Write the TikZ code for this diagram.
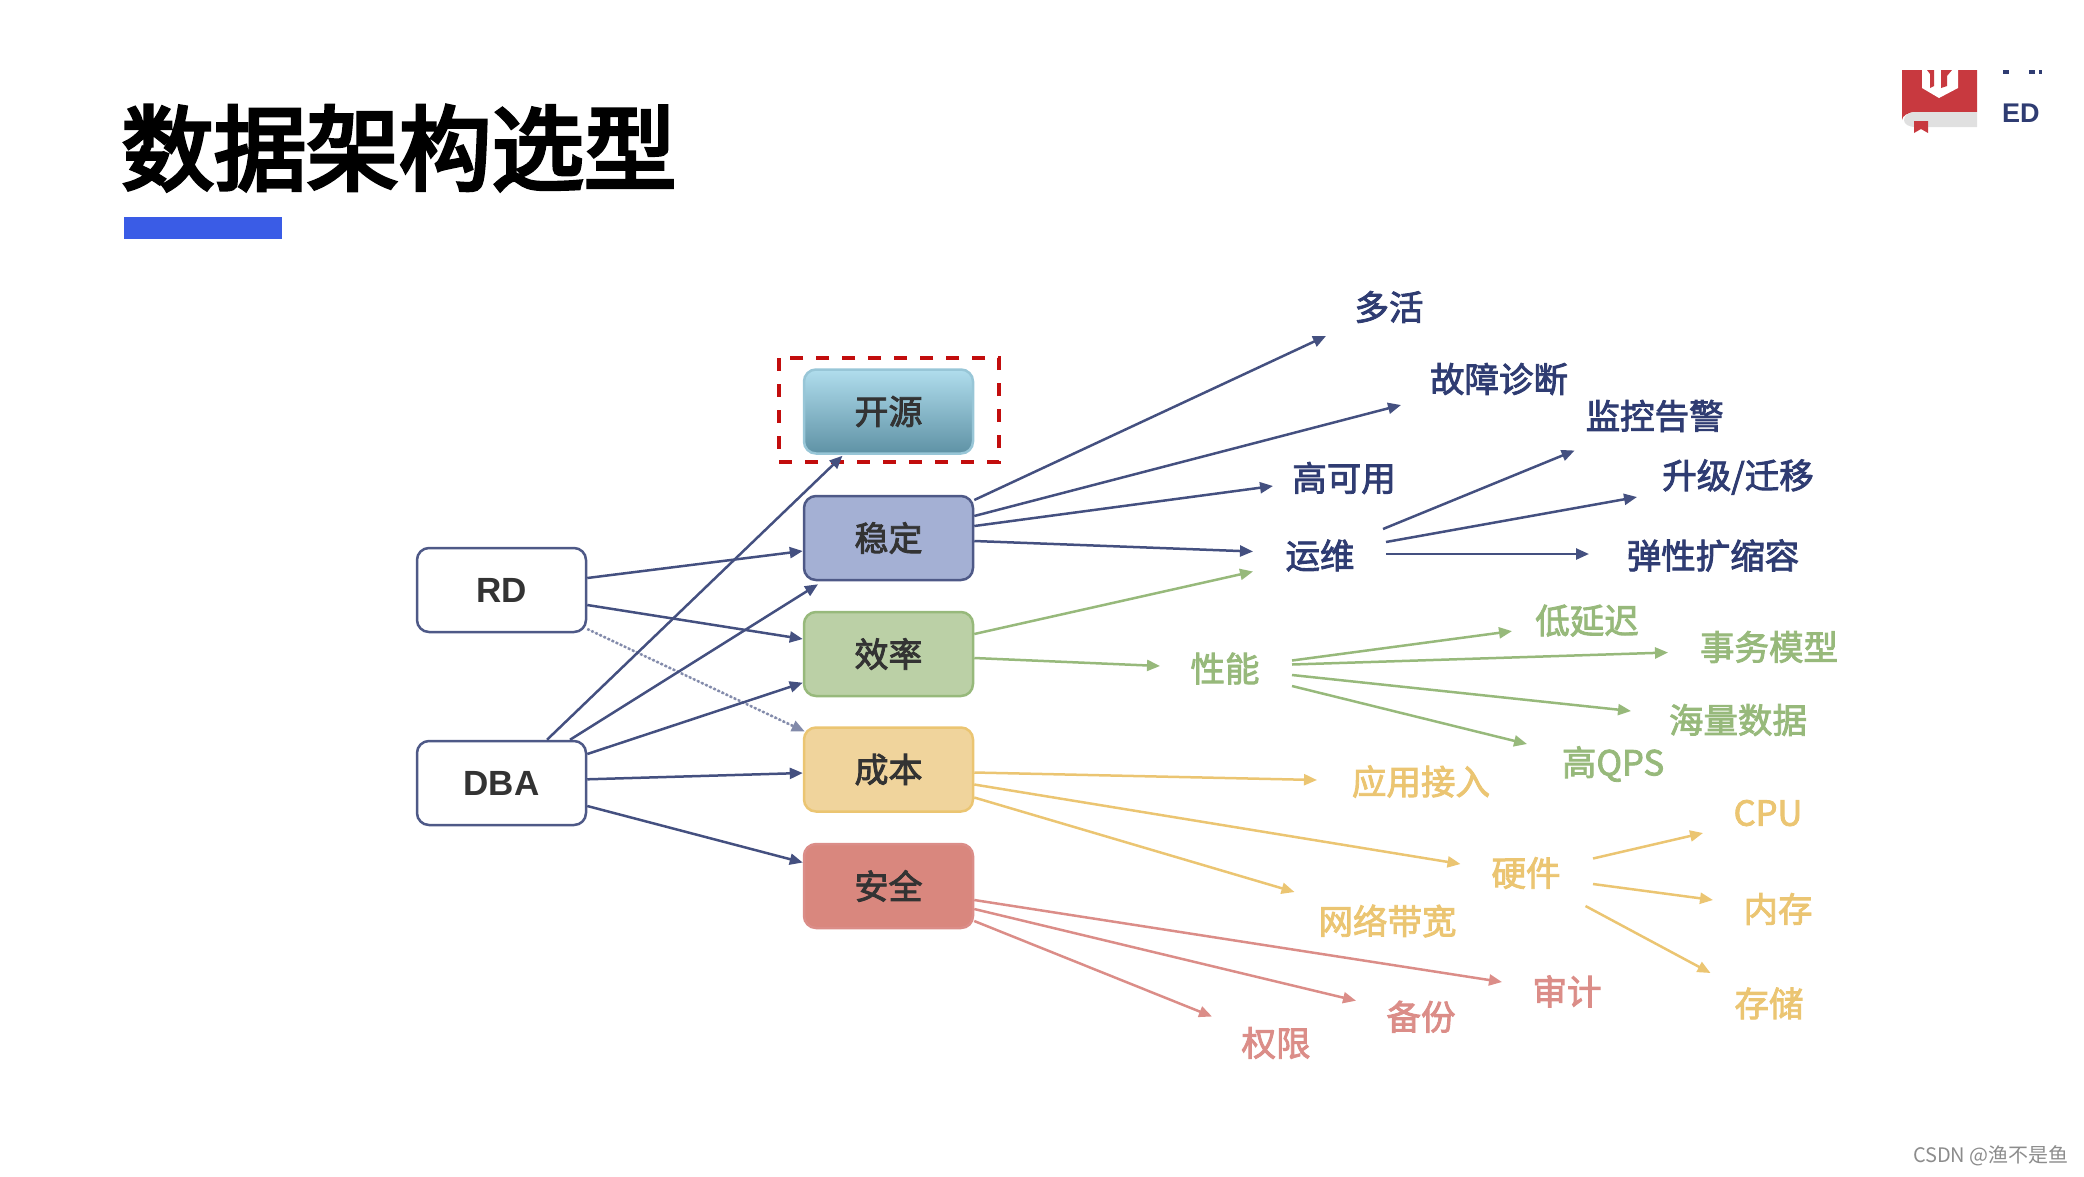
\documentclass[tikz,border=0pt]{standalone}
\usepackage{fontspec}
\usetikzlibrary{arrows.meta,shadings}
\setmainfont{Noto Sans CJK SC}
\newfontfamily\medcjk[FakeBold=2.5]{Noto Sans CJK SC}
\newfontfamily\headcjk[FakeBold=4]{Noto Sans CJK SC}
\newfontfamily\latinb{Liberation Sans}
\definecolor{navy}{HTML}{2F3C72}
\definecolor{green1}{HTML}{97B97B}
\definecolor{yellow1}{HTML}{EBC572}
\definecolor{red1}{HTML}{DB8D88}
\definecolor{titleblue}{HTML}{3A5CE6}
\definecolor{logored}{HTML}{C8393F}
\tikzset{
  box/.style={draw,rounded corners=12pt,minimum width=169pt,minimum height=84pt,inner sep=0pt,line width=2.5pt,font=\medcjk\fontsize{34}{34}\selectfont,text=black!80},
  who/.style={box,draw=navy!85,fill=white,font=\latinb\fontsize{35}{35}\selectfont\bfseries},
  lab/.style={inner sep=0pt,font=\medcjk\fontsize{34.5}{34.5}\selectfont},
  bl/.style={lab,text=navy},
  gl/.style={lab,text=green1},
  yl/.style={lab,text=yellow1},
  rl/.style={lab,text=red1},
  lnk/.style={line width=2.5pt,-{Triangle[length=13pt,width=11pt]}},
  ba/.style={lnk,draw=navy!90,fill=navy},
  ga/.style={lnk,draw=green1,fill=green1},
  ya/.style={lnk,draw=yellow1,fill=yellow1},
  ra/.style={lnk,draw=red1,fill=red1},
}
\begin{document}
\begin{tikzpicture}[x=1pt,y=-1pt]
\useasboundingbox (0,0) rectangle (2084,1176);
% title
\node[inner sep=0pt,font=\headcjk\fontsize{92.5}{92.5}\selectfont,text=black] (title) at (399,148) {数据架构选型};
\fill[titleblue] (124,217) rectangle (282,239);
% logo
\fill[logored] (1902,70) -- (1977,70) -- (1977,112) -- (1916,112) .. controls (1908,112) and (1902,116) .. (1902,120) -- cycle;
\fill[black!12] (1977,112) -- (1916,112) .. controls (1908,112) and (1904,116) .. (1904,120) .. controls (1904,124) and (1908,127) .. (1916,127) -- (1977,127) -- cycle;
\fill[logored] (1914,121) -- (1928,121) -- (1928,133) -- (1921,129) -- (1914,133) -- cycle;
\fill[white] (1922,70) -- (1958,70) -- (1958,88) -- (1939,98) -- (1922,88) -- cycle;
\fill[logored] (1927,70) -- (1934,70) -- (1934,86) -- (1930,88) -- (1930,74) -- cycle;
\fill[logored] (1941,70) -- (1952,70) -- (1947,76) -- (1947,86) -- (1941,88) -- cycle;
\fill[navy] (2003,70) rectangle (2009,74);
\fill[navy] (2029,70) rectangle (2035,74);
\fill[navy] (2039,70) rectangle (2042,74);
\node[inner sep=0pt,anchor=west,text=navy,font=\latinb\fontsize{27}{27}\selectfont\bfseries] (ed) at (2002,113) {ED};
% watermark
\node[inner sep=0pt,anchor=east,text=black!45,font=\fontsize{20}{20}\selectfont] (wm) at (2069,1156) {CSDN @渔不是鱼};
% dashed frame
\draw[draw=red!75!black!95,line width=4pt,dash pattern=on 13pt off 13pt] (779,358) rectangle (999,462);
% boxes
\definecolor{osstop}{HTML}{B0DDED}
\definecolor{ossbot}{HTML}{5F92A5}
\node[box,draw=osstop!70!ossbot,top color=osstop,bottom color=ossbot] (oss) at (888.5,411.5) {开源};
\node[box,draw=navy!85,fill={rgb,255:red,164;green,176;blue,212}] (stable) at (888.5,538) {稳定};
\node[box,draw=green1,fill={rgb,255:red,187;green,208;blue,166}] (eff) at (888.5,654) {效率};
\node[box,draw=yellow1,fill={rgb,255:red,240;green,212;blue,156}] (cost) at (888.5,769.5) {成本};
\node[box,draw=red1,fill={rgb,255:red,217;green,135;blue,126}] (safe) at (888.5,886) {安全};
\node[who] (rd) at (501.5,590) {RD};
\node[who] (dba) at (501.5,783) {DBA};
% labels
\node[bl] (duohuo) at (1389,307) {多活};
\node[bl] (guzhang) at (1499,379) {故障诊断};
\node[bl] (gaoke) at (1344,478) {高可用};
\node[bl] (yunwei) at (1320,555.5) {运维};
\node[bl] (jiankong) at (1654.6,416) {监控告警};
\node[bl] (shengji) at (1738,477) {升级/迁移};
\node[bl] (tanxing) at (1713,555.5) {弹性扩缩容};
\node[gl] (xingneng) at (1225,668.5) {性能};
\node[gl] (diyan) at (1587,620.6) {低延迟};
\node[gl] (shiwu) at (1769,647) {事务模型};
\node[gl] (hailiang) at (1738,720) {海量数据};
\node[gl] (qps) at (1613,764) {高QPS};
\node[yl] (yingyong) at (1421,781.5) {应用接入};
\node[yl] (yingjian) at (1526,873) {硬件};
\node[yl] (wangluo) at (1387.5,921) {网络带宽};
\node[yl] (cpu) at (1768,813) {CPU};
\node[yl] (neicun) at (1778,909) {内存};
\node[yl] (cunchu) at (1769,1003.4) {存储};
\node[rl] (shenji) at (1567,991.4) {审计};
\node[rl] (beifen) at (1421,1016.7) {备份};
\node[rl] (quanxian) at (1276,1043) {权限};
% RD / DBA connectors
\draw[ba] ([shift={(0,-12)}]rd.east) -- ([shift={(0,13)}]stable.west);
\draw[ba] ([shift={(0,15)}]rd.east) -- ([shift={(0,-15)}]eff.west);
\draw[ba,dotted,draw=navy!60] ([shift={(0,39)}]rd.east) -- ([shift={(2,-38)}]cost.west);
\draw[ba] ([shift={(45.5,0)}]dba.north) -- ([shift={(-46,1)}]oss.south);
\draw[ba] ([shift={(68.5,0)}]dba.north) -- ([shift={(-70.5,3)}]stable.south);
\draw[ba] ([shift={(0,-29)}]dba.east) -- ([shift={(0,28.7)}]eff.west);
\draw[ba] ([shift={(0,-3.7)}]dba.east) -- ([shift={(0,3.5)}]cost.west);
\draw[ba] ([shift={(0,23)}]dba.east) -- ([shift={(0,-23.5)}]safe.west);
% stable
\draw[ba] ([shift={(0,-38)}]stable.east) -- ([shift={(-63,29)}]duohuo.center);
\draw[ba] ([shift={(0,-22)}]stable.east) -- ([shift={(-98,26)}]guzhang.center);
\draw[ba] ([shift={(0,-12)}]stable.east) -- ([shift={(-71,8)}]gaoke.center);
\draw[ba] ([shift={(0,3)}]stable.east) -- ([shift={(-67,-4)}]yunwei.center);
% efficiency
\draw[ga] ([shift={(0,-20)}]eff.east) -- ([shift={(-67,16)}]yunwei.center);
\draw[ga] ([shift={(0,4)}]eff.east) -- ([shift={(-65,-2.5)}]xingneng.center);
% ops
\draw[ba] ([shift={(63,-26.5)}]yunwei.center) -- ([shift={(-80,34.5)}]jiankong.center);
\draw[ba] ([shift={(66,-13.5)}]yunwei.center) -- ([shift={(-101,20)}]shengji.center);
\draw[ba] ([shift={(66,-1.5)}]yunwei.center) -- ([shift={(-124,-1.5)}]tanxing.center);
% performance
\draw[ga] ([shift={(67,-8)}]xingneng.center) -- ([shift={(-75,10.5)}]diyan.center);
\draw[ga] ([shift={(67,-4)}]xingneng.center) -- ([shift={(-101,5.5)}]shiwu.center);
\draw[ga] ([shift={(67,6.5)}]xingneng.center) -- ([shift={(-107,-9)}]hailiang.center);
\draw[ga] ([shift={(67,17.5)}]xingneng.center) -- ([shift={(-86,-20)}]qps.center);
% cost
\draw[ya] ([shift={(0,3)}]cost.east) -- ([shift={(-104,-1.5)}]yingyong.center);
\draw[ya] ([shift={(0,15)}]cost.east) -- ([shift={(-65.5,-9)}]yingjian.center);
\draw[ya] ([shift={(0,28)}]cost.east) -- ([shift={(-93,-29)}]wangluo.center);
% hardware
\draw[ya] ([shift={(67,-14.5)}]yingjian.center) -- ([shift={(-65,20)}]cpu.center);
\draw[ya] ([shift={(67,11)}]yingjian.center) -- ([shift={(-65,-9)}]neicun.center);
\draw[ya] ([shift={(59.5,33)}]yingjian.center) -- ([shift={(-58.5,-30.4)}]cunchu.center);
% safety
\draw[ra] ([shift={(0,14)}]safe.east) -- ([shift={(-65,-9.4)}]shenji.center);
\draw[ra] ([shift={(0,23)}]safe.east) -- ([shift={(-65,-16)}]beifen.center);
\draw[ra] ([shift={(0,35)}]safe.east) -- ([shift={(-64,-26.5)}]quanxian.center);
\end{tikzpicture}
\end{document}
